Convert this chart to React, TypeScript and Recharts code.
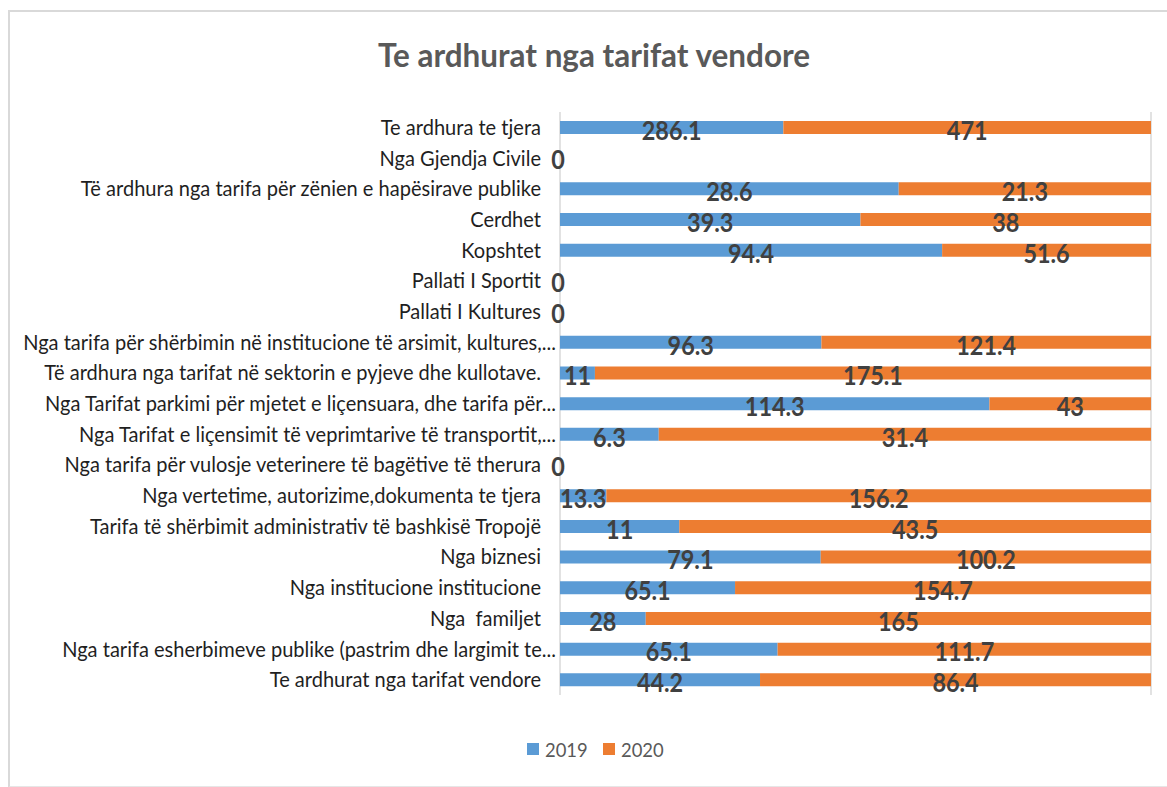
import { BarChart, Bar, XAxis, YAxis, CartesianGrid, LabelList } from "recharts";

const categories = [
  "Te ardhura te tjera",
  "Nga Gjendja Civile",
  "Të ardhura nga tarifa për zënien e hapësirave publike",
  "Cerdhet",
  "Kopshtet",
  "Pallati I Sportit",
  "Pallati I Kultures",
  "Nga tarifa për shërbimin në institucione të arsimit, kultures,...",
  "Të ardhura nga tarifat në sektorin e pyjeve dhe kullotave.",
  "Nga Tarifat parkimi për mjetet e liçensuara, dhe tarifa për...",
  "Nga Tarifat e liçensimit të veprimtarive të transportit,...",
  "Nga tarifa për vulosje veterinere të bagëtive të therura",
  "Nga vertetime, autorizime,dokumenta te tjera",
  "Tarifa të shërbimit administrativ të bashkisë Tropojë",
  "Nga biznesi",
  "Nga institucione institucione",
  "Nga  familjet",
  "Nga tarifa esherbimeve publike (pastrim dhe largimit te...",
  "Te ardhurat nga tarifat vendore",
];

const values2019 = [286.1, 0, 28.6, 39.3, 94.4, 0, 0, 96.3, 11, 114.3, 6.3, 0, 13.3, 11, 79.1, 65.1, 28, 65.1, 44.2];
const values2020 = [471, 0, 21.3, 38, 51.6, 0, 0, 121.4, 175.1, 43, 31.4, 0, 156.2, 43.5, 100.2, 154.7, 165, 111.7, 86.4];

const seriesNames = ["2019", "2020"];
const xTicks = [0, 0.1, 0.2, 0.3, 0.4, 0.5, 0.6, 0.7, 0.8, 0.9, 1];

const BLUE = "#5b9bd5";
const ORANGE = "#ed7d31";
const FONT = "Lato, 'Open Sans', sans-serif";

const data = categories.map((name, i) => ({
  name,
  v2019: values2019[i],
  v2020: values2020[i],
}));

function ValueText({ cx, cy, text }: { cx: number; cy: number; text: string }) {
  return (
    <g transform={`translate(${cx},${cy})`}>
      <text
        transform="scale(0.9,1)"
        textAnchor="middle"
        dy="0.36em"
        fontSize={26}
        fontWeight={700}
        fontFamily={FONT}
        fill="#404040"
      >
        {text}
      </text>
    </g>
  );
}

function CategoryTick(props: any) {
  const { x, y, payload } = props;
  const label: string = payload.value;
  const idx = categories.indexOf(label);
  const shift = label.endsWith("...") ? 4 : -11;
  const empty = values2019[idx] === 0 && values2020[idx] === 0;
  return (
    <g>
      <g transform={`translate(${x + shift},${y})`}>
        <text
          transform="scale(0.955,1)"
          textAnchor="end"
          dy="0.36em"
          fontSize={21}
          fontFamily={FONT}
          fill="#1f1f1f"
          style={{ whiteSpace: "pre" }}
        >
          {label}
        </text>
      </g>
      {empty && <ValueText cx={x + 6} cy={y + 2} text="0" />}
    </g>
  );
}

function makeLabel() {
  return (props: any) => {
    const { x, y, width, height, value } = props;
    const v = Array.isArray(value) ? value[1] - value[0] : value;
    if (!v) return null;
    return <ValueText cx={Number(x) + Number(width) / 2} cy={Number(y) + Number(height) / 2 + 3} text={String(v)} />;
  };
}

function LegendBox() {
  const items = [
    { name: seriesNames[0], color: BLUE },
    { name: seriesNames[1], color: ORANGE },
  ];
  return (
    <div
      style={{
        position: "absolute",
        left: 0,
        top: 737,
        width: 1167,
        display: "flex",
        justifyContent: "center",
        gap: 14,
        paddingLeft: 24,
        boxSizing: "border-box",
      }}
    >
      {items.map((it) => (
        <div key={it.name} style={{ display: "flex", alignItems: "center" }}>
          <span style={{ width: 12, height: 12, background: it.color, display: "inline-block", marginRight: 6 }} />
          <span
            style={{
              display: "inline-block",
              fontFamily: FONT,
              fontSize: 20,
              color: "#595959",
              transform: "scaleX(0.92)",
              transformOrigin: "left center",
              width: 44,
            }}
          >
            {it.name}
          </span>
        </div>
      ))}
    </div>
  );
}

export default function App() {
  return (
    <div style={{ position: "absolute", left: 0, top: 0, width: 1167, height: 787, background: "#fff", overflow: "hidden" }}>
      <div
        style={{
          position: "absolute",
          left: 8,
          top: 10,
          width: 1180,
          height: 774,
          borderTop: "2px solid #d9d9d9",
          borderLeft: "2px solid #d9d9d9",
          borderBottom: "2px solid #e6e6e6",
        }}
      />
      <svg style={{ position: "absolute", left: 0, top: 0 }} width={1167} height={100}>
        <text
          x={594}
          y={67}
          textAnchor="middle"
          fontSize={32}
          fontWeight={700}
          fontFamily={FONT}
          fill="#595959"
          textLength={432}
          lengthAdjust="spacingAndGlyphs"
        >
          Te ardhurat nga tarifat vendore
        </text>
      </svg>
      <div style={{ position: "absolute", left: 0, top: 0 }}>
        <BarChart
          width={1167}
          height={787}
          data={data}
          layout="vertical"
          stackOffset="expand"
          barSize={13}
          margin={{ top: 112, right: 16, bottom: 92, left: 0 }}
        >
          <CartesianGrid horizontal={false} stroke="#d9d9d9" strokeWidth={1.5} />
          <XAxis type="number" domain={[0, 1]} ticks={xTicks} tick={false} axisLine={false} tickLine={false} height={0} />
          <YAxis
            type="category"
            dataKey="name"
            width={560}
            tick={<CategoryTick />}
            tickLine={false}
            axisLine={false}
            interval={0}
          />
          <Bar dataKey="v2019" name={seriesNames[0]} stackId="a" fill={BLUE} isAnimationActive={false}>
            <LabelList dataKey="v2019" content={makeLabel()} />
          </Bar>
          <Bar dataKey="v2020" name={seriesNames[1]} stackId="a" fill={ORANGE} isAnimationActive={false}>
            <LabelList dataKey="v2020" content={makeLabel()} />
          </Bar>
        </BarChart>
      </div>
      <LegendBox />
    </div>
  );
}
